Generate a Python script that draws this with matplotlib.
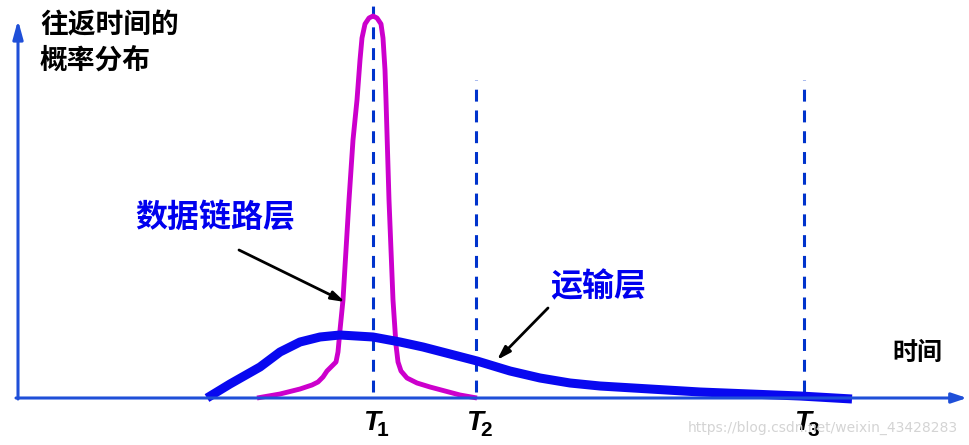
import numpy as np
import matplotlib.pyplot as plt

# ── Data (time units from the origin, probability upward) ───────────────────

link_t = [240, 263, 283, 295, 301, 306, 310, 315, 319, 321, 323, 326, 329, 332,
          336, 340, 343, 345, 348, 352, 356, 360, 364, 366, 368, 369, 372, 376,
          379, 381, 384, 390, 400, 413, 428, 443, 460]
link_p = [0, 4, 9, 13, 16, 21, 27, 32, 36, 46, 68, 98, 148, 198,
          258, 298, 338, 360, 374, 380, 382, 380, 374, 360, 328, 298, 198, 98,
          53, 36, 27, 20, 15, 11, 7, 3, 0]

trans_t = [190, 213, 243, 263, 283, 303, 323, 356, 383, 406, 433, 460, 493,
           523, 553, 583, 633, 683, 733, 783, 835]
trans_p = [0, 14, 31, 46, 56, 61, 63, 61, 56, 51, 44, 37, 27,
           20, 15, 12, 9, 6, 4, 2, -1]

t_marks = [356, 459, 787]
t_names = ["1", "2", "3"]
t_tops = [400, 318, 318]

watermark = "https://blog.csdn.net/weixin_43428283"

# ── Plot ────────────────────────────────────────────────────────────────────

plt.rcParams['font.family'] = ['Noto Sans CJK SC', 'DejaVu Sans']

fig = plt.figure(figsize=(9.69, 4.45), dpi=100)
ax = fig.add_axes([0, 0, 1, 1])
ax.set_xlim(-17, 952)
ax.set_ylim(-47, 398)
ax.axis('off')

axis_col = '#1f4fd8'
ax.annotate('', xy=(950, 0), xytext=(-1, 0),
            arrowprops=dict(arrowstyle='-|>,head_length=0.9,head_width=0.3',
                            color=axis_col, lw=2.2, shrinkA=0, shrinkB=0))
ax.annotate('', xy=(1, 378), xytext=(1, -1),
            arrowprops=dict(arrowstyle='-|>,head_length=1.1,head_width=0.3',
                            color=axis_col, lw=2.2, shrinkA=0, shrinkB=0))

for t, top in zip(t_marks, t_tops):
    ax.plot([t, t], [6, top], color='#0033cc', lw=2.2, dashes=(3.9, 2.9))

ax.plot(link_t, link_p, color='#cc00cc', lw=3.5, solid_joinstyle='round',
        solid_capstyle='butt')
ax.plot(trans_t, trans_p, color='#0808f0', lw=6.5, solid_joinstyle='round',
        solid_capstyle='butt')

for t, name in zip(t_marks, t_names):
    ax.text(t - 10, -32, "T", fontsize=20, fontstyle='italic', fontweight='bold',
            family='Liberation Sans', ha='left', va='baseline')
    ax.text(t + 4, -38, name, fontsize=15, fontweight='bold',
            family='Liberation Sans', ha='left', va='baseline')

ax.text(23, 373, "往返时间的", fontsize=20, fontweight='bold', ha='left', va='center')
ax.text(23, 337, "概率分布", fontsize=20, fontweight='bold', ha='left', va='center')
ax.text(875, 45, "时间", fontsize=18, fontweight='bold', ha='left', va='center')
ax.text(118, 180, "数据链路层", fontsize=23, fontweight='bold', color='#0000ee',
        ha='left', va='center')
ax.text(533, 111, "运输层", fontsize=23, fontweight='bold', color='#0000ee',
        ha='left', va='center')

arrow_kw = dict(arrowstyle='-|>,head_length=0.8,head_width=0.25', color='black',
                lw=2, shrinkA=0, shrinkB=0)
ax.annotate('', xy=(328, 96), xytext=(222, 148), arrowprops=arrow_kw)
ax.annotate('', xy=(480, 38), xytext=(531, 90), arrowprops=arrow_kw)

ax.text(671, -30, watermark, fontsize=10, color='#d4d4d4', family='DejaVu Sans',
        ha='left', va='center')

fig.savefig('out.png', dpi=100)
